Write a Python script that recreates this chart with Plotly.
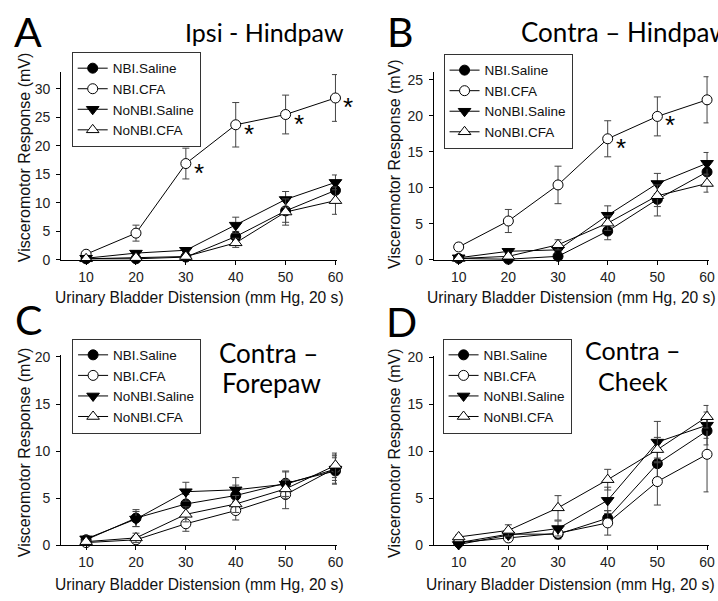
import plotly.graph_objects as go

W, H = 718, 601

pressure = [10, 20, 30, 40, 50, 60]
groups = ["NBI.Saline", "NBI.CFA", "NoNBI.Saline", "NoNBI.CFA"]

# Panel A: Ipsi - Hindpaw
a_nbi_saline = [0.2, 0.2, 0.5, 4.1, 8.6, 12.2]
a_nbi_saline_err = [0.2, 0.2, 0.3, 0.9, 2.0, 1.6]
a_nbi_cfa = [1.0, 4.7, 16.9, 23.7, 25.5, 28.4]
a_nbi_cfa_err = [0.3, 1.4, 2.7, 3.9, 3.4, 4.1]
a_nonbi_saline = [0.3, 1.2, 1.7, 6.1, 10.6, 13.6]
a_nonbi_saline_err = [0.2, 0.4, 0.4, 1.4, 1.4, 1.3]
a_nonbi_cfa = [0.2, 0.4, 0.6, 3.0, 8.4, 10.4]
a_nonbi_cfa_err = [0.1, 0.3, 0.3, 0.8, 2.3, 2.4]
a_sig = [False, False, True, True, True, True]

# Panel B: Contra - Hindpaw
b_nbi_saline = [0.2, 0.1, 0.5, 4.0, 8.4, 12.2]
b_nbi_saline_err = [0.2, 0.2, 0.3, 1.2, 2.3, 1.5]
b_nbi_cfa = [1.8, 5.4, 10.4, 16.8, 19.9, 22.2]
b_nbi_cfa_err = [0.5, 1.6, 2.6, 2.5, 2.7, 3.2]
b_nonbi_saline = [0.3, 1.2, 1.4, 6.2, 10.6, 13.4]
b_nonbi_saline_err = [0.2, 0.3, 0.4, 1.3, 1.4, 1.5]
b_nonbi_cfa = [0.2, 0.5, 2.1, 5.1, 8.9, 10.6]
b_nonbi_cfa_err = [0.1, 0.3, 0.7, 1.0, 1.5, 1.2]
b_sig = [False, False, False, True, True, False]

# Panel C: Contra - Forepaw
c_nbi_saline = [0.6, 2.9, 4.4, 5.3, 6.6, 7.9]
c_nbi_saline_err = [0.3, 0.9, 1.0, 1.1, 1.3, 1.4]
c_nbi_cfa = [0.3, 0.6, 2.3, 3.7, 5.4, 8.2]
c_nbi_cfa_err = [0.2, 0.4, 0.8, 1.0, 1.5, 1.3]
c_nonbi_saline = [0.7, 2.8, 5.7, 5.9, 6.5, 8.1]
c_nonbi_saline_err = [0.3, 0.8, 1.0, 1.3, 1.3, 1.5]
c_nonbi_cfa = [0.4, 0.8, 3.3, 4.4, 6.0, 8.5]
c_nonbi_cfa_err = [0.2, 0.5, 0.8, 0.9, 1.0, 1.3]

# Panel D: Contra - Cheek
d_nbi_saline = [0.3, 1.2, 1.2, 2.9, 8.7, 12.2]
d_nbi_saline_err = [0.2, 0.3, 0.5, 0.8, 1.5, 1.5]
d_nbi_cfa = [0.3, 0.8, 1.3, 2.4, 6.8, 9.7]
d_nbi_cfa_err = [0.2, 0.3, 0.4, 1.3, 2.5, 4.0]
d_nonbi_saline = [0.1, 1.1, 1.8, 4.8, 11.0, 12.8]
d_nonbi_saline_err = [0.1, 0.3, 0.8, 1.4, 2.2, 1.4]
d_nonbi_cfa = [0.9, 1.6, 4.0, 7.0, 10.2, 13.7]
d_nonbi_cfa_err = [0.2, 0.6, 1.3, 1.1, 1.3, 1.2]

panel_letters = ["A", "B", "C", "D"]
panel_titles = [["Ipsi - Hindpaw"], ["Contra \u2013 Hindpaw"],
                ["Contra \u2013", "Forepaw"], ["Contra \u2013", "Cheek"]]
x_title = "Urinary Bladder Distension (mm Hg, 20 s)"
y_title = "Visceromotor Response (mV)"
y_max = [33, 26, 20.2, 20.2]

panels = [
    ([a_nbi_saline, a_nbi_cfa, a_nonbi_saline, a_nonbi_cfa],
     [a_nbi_saline_err, a_nbi_cfa_err, a_nonbi_saline_err, a_nonbi_cfa_err], a_sig),
    ([b_nbi_saline, b_nbi_cfa, b_nonbi_saline, b_nonbi_cfa],
     [b_nbi_saline_err, b_nbi_cfa_err, b_nonbi_saline_err, b_nonbi_cfa_err], b_sig),
    ([c_nbi_saline, c_nbi_cfa, c_nonbi_saline, c_nonbi_cfa],
     [c_nbi_saline_err, c_nbi_cfa_err, c_nonbi_saline_err, c_nonbi_cfa_err], None),
    ([d_nbi_saline, d_nbi_cfa, d_nonbi_saline, d_nonbi_cfa],
     [d_nbi_saline_err, d_nbi_cfa_err, d_nonbi_saline_err, d_nonbi_cfa_err], None),
]

def fx(p):
    return p / W

def fy(p):
    return 1 - p / H

# plot-area boxes in pixels: (left, right, top, bottom)
boxes = [
    (61.7, 339.8, 67.3, 260.0),
    (437.5, 714.5, 68.0, 260.0),
    (61.7, 339.8, 357.4, 552.3),
    (437.5, 714.5, 358.0, 552.3),
]
legend_pos = [(72.3, 47.0), (447.3, 49.0), (72.7, 340.5), (446.3, 340.5)]
letter_pos = [(28, 26), (404, 26), (29, 321), (405, 323)]
title_anchor = ["left", "left", "center", "center"]
title_lines_pos = [[(185, 27)], [(523, 27)], [(271, 355), (274, 386)], [(638, 352), (638, 384)]]
title_size = [25, 26, 26, 25]
xtitle_pos = [(201, 298), (576, 298), (201, 592), (575, 592)]
ytitle_pos = [(25, 155), (398, 162), (25, 457), (398, 458)]

fills = ["black", "white", "black", "white"]
marker_symbols = ["circle", "circle", "triangle-down", "triangle-up"]

TICKFONT = dict(family="Arial, Liberation Sans", size=14, color="#222")
TITLEFONT = dict(family="Arial, Liberation Sans", size=15.6, color="#111")
YTITLEFONT = dict(family="Arial, Liberation Sans", size=16, color="#111")

fig = go.Figure()
layout = dict(width=W, height=H, margin=dict(l=0, r=0, t=0, b=0),
              paper_bgcolor="white", plot_bgcolor="white", autosize=False,
              annotations=[])

for i, (series, errs, sig) in enumerate(panels):
    n = i + 1
    xa = "x" if n == 1 else f"x{n}"
    ya = "y" if n == 1 else f"y{n}"
    lg = "legend" if n == 1 else f"legend{n}"
    for g, name in enumerate(groups):
        fig.add_trace(go.Scatter(
            x=pressure, y=series[g], name=name, mode="lines+markers",
            xaxis=xa, yaxis=ya, legend=lg, cliponaxis=False,
            line=dict(color="black", width=1),
            marker=dict(symbol=marker_symbols[g], size=10 if g < 2 else 11,
                        color=fills[g], line=dict(color="black", width=1)),
            error_y=dict(type="data", array=errs[g], visible=True,
                         color="#444", thickness=1, width=3.5),
        ))
    l, r, t, b = boxes[i]
    xkey = "xaxis" if n == 1 else f"xaxis{n}"
    ykey = "yaxis" if n == 1 else f"yaxis{n}"
    layout[xkey] = dict(domain=[fx(l), fx(r)], range=[5, 60.3], anchor=ya,
                        tickvals=pressure, ticks="outside", ticklen=4, tickcolor="black",
                        showline=True, linecolor="black", linewidth=1,
                        showgrid=False, zeroline=False, tickfont=TICKFONT)
    layout[ykey] = dict(domain=[fy(b), fy(t)], range=[0, y_max[i]], anchor=xa,
                        dtick=5, tick0=0, ticks="outside", ticklen=4, tickcolor="black",
                        showline=True, linecolor="black", linewidth=1,
                        showgrid=False, zeroline=False, tickfont=TICKFONT,
                        ticklabelstandoff=3)
    lx, ly = legend_pos[i]
    layout[lg] = dict(x=fx(lx), y=fy(ly), xanchor="left", yanchor="top",
                      bgcolor="white", bordercolor="#333", borderwidth=1,
                      font=dict(family="Arial, Liberation Sans", size=13.5, color="#111"),
                      traceorder="normal", tracegroupgap=0)
    px_, py_ = letter_pos[i]
    layout["annotations"].append(dict(text=panel_letters[i], x=fx(px_), y=fy(py_),
                                      xref="paper", yref="paper", showarrow=False,
                                      xanchor="center", yanchor="middle",
                                      font=dict(family="Lato", size=41, color="black")))
    for line_text, (tx, ty) in zip(panel_titles[i], title_lines_pos[i]):
        layout["annotations"].append(dict(text=line_text, x=fx(tx), y=fy(ty),
                                          xref="paper", yref="paper", showarrow=False,
                                          xanchor=title_anchor[i], yanchor="middle",
                                          font=dict(family="Lato", size=title_size[i], color="black")))
    xt, yt = xtitle_pos[i]
    layout["annotations"].append(dict(text=x_title, x=fx(xt), y=fy(yt),
                                      xref="paper", yref="paper", showarrow=False,
                                      xanchor="center", yanchor="middle", font=TITLEFONT))
    xt, yt = ytitle_pos[i]
    layout["annotations"].append(dict(text=y_title, x=fx(xt), y=fy(yt), textangle=-90,
                                      xref="paper", yref="paper", showarrow=False,
                                      xanchor="center", yanchor="middle", font=YTITLEFONT))
    if sig is not None:
        for k, s in enumerate(sig):
            if s:
                layout["annotations"].append(dict(text="*", x=pressure[k], y=series[1][k],
                                                  xref=xa, yref=ya, showarrow=False,
                                                  xshift=13, yshift=-9,
                                                  font=dict(family="Arial, Liberation Sans", size=26, color="black")))

fig.update_layout(**layout)
fig.write_html("out.html", config={"displayModeBar": False},
               post_script="document.body.style.margin='0';document.body.style.padding='0';")
